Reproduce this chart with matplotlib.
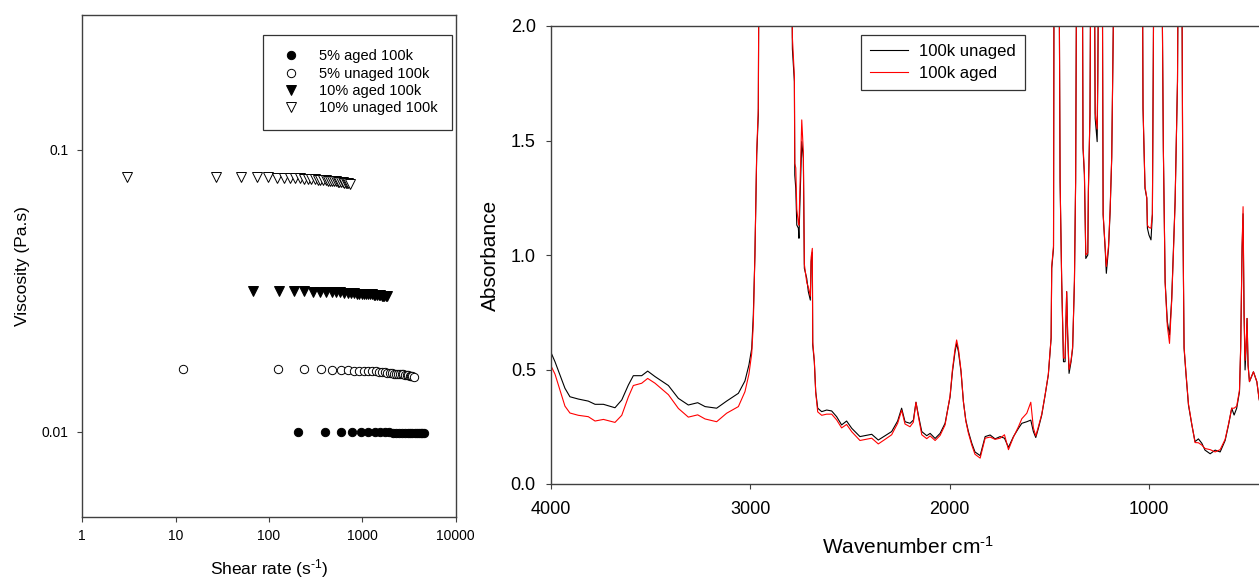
import numpy as np
import matplotlib
matplotlib.use("Agg")
import matplotlib.pyplot as plt
from matplotlib.ticker import FixedLocator, NullLocator

plt.rcParams['font.family'] = ['Liberation Sans', 'DejaVu Sans']
plt.rcParams['mathtext.default'] = 'regular'

# ---- viscosity data (left panel) ----
rate_5_aged = [207, 394, 585, 780, 970, 1160, 1350, 1540, 1730, 1920, 2110, 2300,
               2490, 2680, 2870, 3060, 3250, 3440, 3630, 3820, 4010, 4200, 4390, 4570]
visc_5_aged = [0.0100, 0.0100, 0.0100, 0.0100, 0.00998, 0.00998, 0.00997, 0.00997,
               0.00996, 0.00996, 0.00995, 0.00995, 0.00995, 0.00994, 0.00994, 0.00994,
               0.00993, 0.00993, 0.00993, 0.00992, 0.00992, 0.00992, 0.00991, 0.00991]

rate_5_unaged = [12, 126, 240, 357, 476, 590, 704, 818, 932, 1046, 1160, 1274, 1388,
                 1502, 1616, 1730, 1844, 1958, 2072, 2186, 2300, 2414, 2528, 2642,
                 2756, 2870, 2984, 3098, 3212, 3326, 3440, 3546]
visc_5_unaged = [0.0167, 0.0167, 0.0167, 0.0167, 0.0166, 0.0166, 0.0166, 0.0165,
                 0.0165, 0.0165, 0.0164, 0.0164, 0.0164, 0.0163, 0.0163, 0.0163,
                 0.0162, 0.0162, 0.0162, 0.0161, 0.0161, 0.0161, 0.0160, 0.0160,
                 0.0160, 0.0159, 0.0159, 0.0159, 0.0158, 0.0158, 0.0158, 0.0157]

rate_10_aged = [67, 127, 185, 240, 297, 354, 411, 468, 525, 582, 639, 696, 753, 810,
                867, 924, 981, 1038, 1095, 1152, 1209, 1266, 1323, 1380, 1437, 1494,
                1551, 1608, 1665, 1722, 1779, 1834]
visc_10_aged = [0.0316, 0.0316, 0.0315, 0.0315, 0.0314, 0.0314, 0.0313, 0.0313,
                0.0312, 0.0312, 0.0311, 0.0311, 0.0310, 0.0310, 0.0309, 0.0309,
                0.0309, 0.0308, 0.0308, 0.0307, 0.0307, 0.0307, 0.0306, 0.0306,
                0.0305, 0.0305, 0.0305, 0.0304, 0.0304, 0.0304, 0.0303, 0.0303]

rate_10_unaged = [3, 27, 50, 74, 97, 121, 144, 168, 191, 215, 238, 262, 285, 309,
                  332, 356, 379, 403, 426, 450, 473, 497, 520, 544, 567, 591, 614,
                  638, 661, 685, 708, 730]
visc_10_unaged = [0.0800, 0.0800, 0.0799, 0.0798, 0.0797, 0.0796, 0.0795, 0.0793,
                  0.0792, 0.0790, 0.0789, 0.0787, 0.0786, 0.0784, 0.0783, 0.0781,
                  0.0780, 0.0778, 0.0777, 0.0775, 0.0774, 0.0772, 0.0771, 0.0769,
                  0.0768, 0.0767, 0.0765, 0.0764, 0.0762, 0.0761, 0.0759, 0.0757]

# ---- FTIR data (right panel) ----
wavenumber = [4000, 3998, 3980, 3955, 3930, 3905, 3880, 3863, 3813, 3779, 3737, 3679,
              3645, 3612, 3587, 3545, 3515, 3478, 3411, 3361, 3311, 3264, 3227, 3169,
              3119, 3060, 3027, 3007, 2993, 2985, 2977, 2968, 2960, 2956, 2794, 2789,
              2779, 2777, 2772, 2767, 2759, 2756, 2751, 2742, 2734, 2729, 2717, 2709,
              2699, 2695, 2689, 2687, 2679, 2672, 2662, 2642, 2617, 2592, 2567, 2542,
              2517, 2491, 2450, 2391, 2358, 2324, 2291, 2261, 2241, 2224, 2199, 2182,
              2169, 2157, 2140, 2115, 2098, 2073, 2048, 2023, 1998, 1986, 1973, 1965,
              1956, 1943, 1931, 1919, 1906, 1889, 1873, 1847, 1822, 1797, 1772, 1747,
              1725, 1705, 1680, 1655, 1638, 1613, 1593, 1580, 1568, 1555, 1538, 1521,
              1505, 1491, 1488, 1479, 1476, 1452, 1446, 1438, 1429, 1421, 1413, 1408,
              1401, 1391, 1383, 1374, 1368, 1362, 1335, 1331, 1324, 1317, 1307, 1304,
              1296, 1291, 1275, 1270, 1260, 1257, 1251, 1235, 1230, 1220, 1214, 1203,
              1195, 1187, 1172, 1034, 1030, 1020, 1011, 1008, 1000, 990, 983, 974,
              937, 928, 919, 908, 897, 886, 877, 869, 857, 852, 836, 830,
              824, 814, 802, 785, 769, 752, 735, 719, 693, 668, 643, 618,
              601, 585, 573, 560, 546, 540, 533, 528, 523, 518, 513, 508,
              503, 496, 476, 459, 448, 440]
abs_unaged = [0.575, 0.570, 0.534, 0.476, 0.418, 0.381, 0.375, 0.371, 0.362, 0.348, 0.348, 0.333,
              0.367, 0.432, 0.473, 0.473, 0.493, 0.469, 0.430, 0.374, 0.345, 0.355, 0.338, 0.331,
              0.362, 0.396, 0.450, 0.520, 0.592, 0.738, 1.000, 1.437, 1.611, 2.500, 2.500, 1.900,
              1.757, 1.349, 1.291, 1.131, 1.117, 1.073, 1.233, 1.495, 1.422, 0.942, 0.898, 0.840,
              0.803, 0.971, 1.012, 0.607, 0.534, 0.403, 0.331, 0.316, 0.323, 0.319, 0.294, 0.258,
              0.275, 0.243, 0.207, 0.217, 0.192, 0.211, 0.229, 0.275, 0.331, 0.272, 0.265, 0.279,
              0.357, 0.301, 0.229, 0.211, 0.221, 0.199, 0.221, 0.265, 0.380, 0.490, 0.578, 0.614,
              0.578, 0.490, 0.359, 0.279, 0.229, 0.178, 0.140, 0.124, 0.207, 0.214, 0.197, 0.207,
              0.200, 0.160, 0.207, 0.243, 0.265, 0.272, 0.279, 0.229, 0.203, 0.243, 0.301, 0.389,
              0.476, 0.636, 0.942, 1.029, 2.500, 2.500, 1.320, 0.883, 0.534, 0.534, 0.840, 0.651,
              0.483, 0.534, 0.592, 0.883, 1.320, 2.500, 2.500, 1.466, 1.349, 0.985, 1.000, 1.277,
              1.611, 2.500, 2.500, 1.597, 1.495, 1.757, 2.500, 2.500, 1.175, 1.029, 0.920, 1.029,
              1.189, 1.422, 2.500, 2.500, 1.640, 1.291, 1.248, 1.117, 1.087, 1.066, 1.175, 2.500,
              2.500, 1.466, 0.883, 0.709, 0.651, 0.811, 1.029, 1.233, 1.757, 2.500, 2.500, 1.175,
              0.592, 0.476, 0.345, 0.258, 0.185, 0.197, 0.178, 0.148, 0.132, 0.148, 0.140, 0.190,
              0.258, 0.331, 0.301, 0.331, 0.403, 0.592, 1.029, 1.180, 0.738, 0.498, 0.592, 0.723,
              0.520, 0.447, 0.490, 0.447, 0.374, 0.340]
abs_aged = [0.000, 0.512, 0.480, 0.410, 0.340, 0.310, 0.304, 0.300, 0.294, 0.275, 0.282, 0.269,
            0.300, 0.380, 0.430, 0.440, 0.461, 0.440, 0.390, 0.330, 0.292, 0.302, 0.284, 0.272,
            0.309, 0.338, 0.403, 0.480, 0.570, 0.700, 1.000, 1.450, 1.640, 2.500, 2.500, 1.950,
            1.780, 1.400, 1.380, 1.200, 1.140, 1.130, 1.300, 1.590, 1.450, 0.960, 0.880, 0.860,
            0.820, 0.990, 1.029, 0.620, 0.540, 0.400, 0.315, 0.300, 0.305, 0.305, 0.280, 0.245,
            0.260, 0.228, 0.190, 0.200, 0.175, 0.195, 0.215, 0.265, 0.322, 0.262, 0.250, 0.270,
            0.357, 0.295, 0.215, 0.198, 0.210, 0.190, 0.212, 0.258, 0.385, 0.500, 0.590, 0.629,
            0.590, 0.495, 0.360, 0.275, 0.222, 0.170, 0.130, 0.113, 0.200, 0.205, 0.195, 0.200,
            0.215, 0.150, 0.205, 0.250, 0.285, 0.309, 0.357, 0.245, 0.210, 0.250, 0.305, 0.390,
            0.480, 0.640, 0.950, 1.040, 2.500, 2.500, 1.330, 0.890, 0.550, 0.550, 0.840, 0.660,
            0.500, 0.540, 0.600, 0.890, 1.330, 2.500, 2.500, 1.480, 1.360, 1.000, 1.010, 1.290,
            1.620, 2.500, 2.500, 1.620, 1.550, 1.770, 2.500, 2.500, 1.180, 1.040, 0.950, 1.040,
            1.200, 1.430, 2.500, 2.500, 1.650, 1.300, 1.250, 1.130, 1.120, 1.117, 1.180, 2.500,
            2.500, 1.470, 0.880, 0.690, 0.614, 0.800, 1.020, 1.230, 1.760, 2.500, 2.500, 1.180,
            0.600, 0.480, 0.350, 0.260, 0.181, 0.180, 0.170, 0.155, 0.150, 0.140, 0.150, 0.195,
            0.262, 0.331, 0.331, 0.340, 0.410, 0.600, 1.040, 1.211, 0.750, 0.540, 0.600, 0.723,
            0.520, 0.447, 0.490, 0.447, 0.374, 0.340]

W, H = 1259, 579
fig = plt.figure(figsize=(W / 100, H / 100), dpi=100)
spine_col = '#404040'

# ---------------- left panel ----------------
ax1 = fig.add_axes([82.3 / W, 1 - 517 / H, 373.4 / W, 502.2 / H])
ax1.plot(rate_5_aged, visc_5_aged, 'o', color='black', ms=6, mec='black', mew=0.7,
         label='5% aged 100k')
ax1.plot(rate_5_unaged, visc_5_unaged, 'o', mfc='white', mec='black', ms=6, mew=0.7,
         label='5% unaged 100k')
ax1.plot(rate_10_aged, visc_10_aged, 'v', color='black', ms=6.5, mec='black', mew=0.7,
         label='10% aged 100k')
ax1.plot(rate_10_unaged, visc_10_unaged, 'v', mfc='white', mec='black', ms=6.5, mew=0.7,
         label='10% unaged 100k')
ax1.set_xscale('log')
ax1.set_yscale('log')
ax1.set_xlim(1, 10000)
ax1.set_ylim(0.005, 0.3)
ax1.xaxis.set_major_locator(FixedLocator([1, 10, 100, 1000, 10000]))
ax1.xaxis.set_minor_locator(NullLocator())
ax1.set_xticklabels(['1', '10', '100', '1000', '10000'])
ax1.yaxis.set_major_locator(FixedLocator([0.01, 0.1]))
ax1.yaxis.set_minor_locator(NullLocator())
ax1.set_yticklabels(['0.01', '0.1'])
ax1.tick_params(direction='out', length=3.5, width=0.8, labelsize=10, color=spine_col)
ax1.tick_params(axis='x', pad=5.3)
ax1.tick_params(axis='y', pad=6.6)
for s in ax1.spines.values():
    s.set_color(spine_col)
    s.set_linewidth(1)
ax1.set_xlabel('Shear rate (s$^{\u20101}$)', fontsize=12.5)
ax1.xaxis.set_label_coords(0.5, -0.079)
ax1.set_ylabel('Viscosity (Pa.s)', fontsize=12.5)
ax1.yaxis.set_label_coords(-0.14, 0.5)
leg1 = ax1.legend(loc='upper right', bbox_to_anchor=(0.990, 0.960), borderaxespad=0,
                  fontsize=10.5, frameon=True, fancybox=False, edgecolor='black',
                  labelspacing=0.22, handlelength=1.95, handletextpad=0.9, borderpad=1.0)
leg1.get_frame().set_linewidth(0.9)

# ---------------- right panel ----------------
ax2 = fig.add_axes([551 / W, 1 - 484 / H, 3600 * 0.19933 / W, 458 / H])
ax2.plot(wavenumber, abs_unaged, color='black', lw=0.8, label='100k unaged')
ax2.plot(wavenumber, abs_aged, color='red', lw=0.8, label='100k aged')
ax2.set_xlim(4000, 400)
ax2.set_ylim(0, 2.0)
ax2.set_xticks([4000, 3000, 2000, 1000])
ax2.set_yticks([0.0, 0.5, 1.0, 1.5, 2.0])
ax2.set_yticklabels(['0.0', '0.5', '1.0', '1.5', '2.0'])
ax2.tick_params(direction='out', length=3.3, width=0.8, labelsize=13, color=spine_col)
ax2.tick_params(axis='x', pad=9.0)
ax2.tick_params(axis='y', pad=7.6)
for s in ax2.spines.values():
    s.set_color(spine_col)
    s.set_linewidth(1)
ax2.set_xlabel('Wavenumber cm$^{\u20101}$', fontsize=15)
ax2.xaxis.set_label_coords((908 - 551) / 717.6, -0.113)
ax2.set_ylabel('Absorbance', fontsize=15)
ax2.yaxis.set_label_coords(-0.071, 0.5)
leg2 = ax2.legend(loc='upper left', bbox_to_anchor=(0.432, 0.980), borderaxespad=0,
                  fontsize=12, frameon=True, fancybox=False, edgecolor='black',
                  labelspacing=0.42, handlelength=2.3, handletextpad=0.66, borderpad=0.55)
leg2.get_frame().set_linewidth(0.9)

fig.savefig('out.png', dpi=100)
